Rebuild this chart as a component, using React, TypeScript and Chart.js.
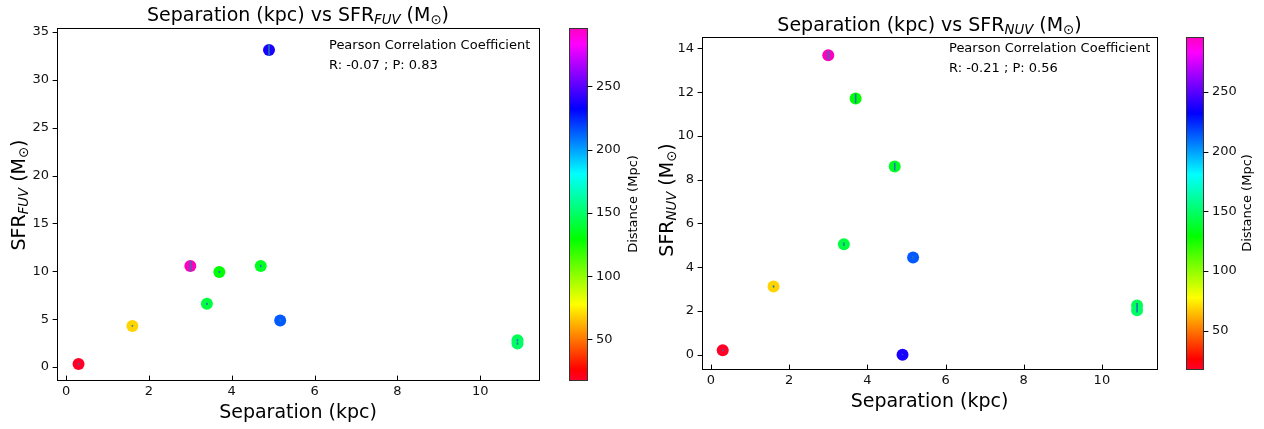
import React, { useEffect, useRef } from 'react';
import { Chart, registerables } from 'chart.js';

Chart.register(...registerables);

// ---------------- data ----------------
const separationKpc = [0.3, 1.6, 3.0, 3.4, 3.7, 4.7, 4.9, 5.17, 10.9, 10.9];
const distanceMpc = [18, 69, 296, 142, 130, 136, 237, 214, 146, 149];
const sfrFUV = [0.33, 4.3, 10.55, 6.6, 9.93, 10.55, 33.1, 4.86, 2.8, 2.45];
const sfrFUVErr = [0.08, 0.08, 0.55, 0.12, 0.1, 0.12, 0.6, 0.15, 0.12, 0.12];
const sfrNUV = [0.21, 3.12, 13.69, 5.05, 11.71, 8.6, 0.0, 4.45, 2.25, 2.03];
const sfrNUVErr = [0.03, 0.05, 0.2, 0.08, 0.22, 0.18, 0.02, 0.05, 0.12, 0.1];
const xTicks = [0, 2, 4, 6, 8, 10];
const fuvTicks = [0, 5, 10, 15, 20, 25, 30, 35];
const nuvTicks = [0, 2, 4, 6, 8, 10, 12, 14];
const distanceTicks = [50, 100, 150, 200, 250];
const pearsonFUV = ['-0.07', '0.83'];
const pearsonNUV = ['-0.21', '0.56'];

// gist_rainbow colormap nodes
const gistRainbow: [number, number, number, number][] = [
  [0.0, 1, 0, 0.16],
  [0.03, 1, 0, 0],
  [0.215, 1, 1, 0],
  [0.4, 0, 1, 0],
  [0.586, 0, 1, 1],
  [0.77, 0, 0, 1],
  [0.954, 1, 0, 1],
  [1.0, 1, 0, 0.75],
];

const vMin = Math.min(...distanceMpc);
const vMax = Math.max(...distanceMpc);

function rgb(r: number, g: number, b: number) {
  return `rgb(${Math.round(r * 255)},${Math.round(g * 255)},${Math.round(b * 255)})`;
}

function cmap(t: number) {
  const c = Math.max(0, Math.min(1, t));
  for (let i = 1; i < gistRainbow.length; i++) {
    const a = gistRainbow[i - 1];
    const b = gistRainbow[i];
    if (c <= b[0]) {
      const f = (c - a[0]) / (b[0] - a[0]);
      return rgb(a[1] + (b[1] - a[1]) * f, a[2] + (b[2] - a[2]) * f, a[3] + (b[3] - a[3]) * f);
    }
  }
  const l = gistRainbow[gistRainbow.length - 1];
  return rgb(l[1], l[2], l[3]);
}

const pointColors = distanceMpc.map((d) => cmap((d - vMin) / (vMax - vMin)));

// ---------------- layout ----------------
const H = 429;
const FONT = '"DejaVu Sans", sans-serif';

type Area = { left: number; right: number; top: number; bottom: number };
type Spec = {
  canvasX: number;
  canvasW: number;
  area: Area;
  y: number[];
  yErr: number[];
  yTicks: number[];
  yMin: number;
  yMax: number;
  xMin: number;
  xMax: number;
  band: string;
  pearson: string[];
  titleBaseline: number;
  ylabelX: number;
  ylabelCY: number;
  noteX: number;
  noteY: number;
  xlabelBaseline: number;
  cbGap: number;
  cbW: number;
  cbLabelX: number;
};

const leftSpec: Spec = {
  canvasX: 0,
  canvasW: 645,
  area: { left: 57, right: 539, top: 28, bottom: 380 },
  y: sfrFUV,
  yErr: sfrFUVErr,
  yTicks: fuvTicks,
  yMin: -1.35,
  yMax: 35.4,
  xMin: -0.22,
  xMax: 11.42,
  band: 'FUV',
  pearson: pearsonFUV,
  titleBaseline: 21,
  ylabelX: 25,
  ylabelCY: 195,
  noteX: 329,
  noteY: 49,
  xlabelBaseline: 418,
  cbGap: 30,
  cbW: 18,
  cbLabelX: 637,
};

const rightSpec: Spec = {
  canvasX: 645,
  canvasW: 619,
  area: { left: 57, right: 512, top: 37, bottom: 369 },
  y: sfrNUV,
  yErr: sfrNUVErr,
  yTicks: nuvTicks,
  yMin: -0.65,
  yMax: 14.52,
  xMin: -0.23,
  xMax: 11.41,
  band: 'NUV',
  pearson: pearsonNUV,
  titleBaseline: 31,
  ylabelX: 28,
  ylabelCY: 200,
  noteX: 304,
  noteY: 52,
  xlabelBaseline: 407,
  cbGap: 29,
  cbW: 17,
  cbLabelX: 606,
};

type Seg = { t: string; sub?: boolean; it?: boolean };

function sfrSegs(prefix: string, band: string): Seg[] {
  return [
    { t: prefix + 'SFR' },
    { t: band, sub: true, it: true },
    { t: ' (M' },
    { t: '\u2299', sub: true },
    { t: ')' },
  ];
}

function drawRich(ctx: CanvasRenderingContext2D, segs: Seg[], size: number) {
  // draws centered at (0,0) on baseline
  const subSize = size * 0.7;
  const fontOf = (s: Seg) => `${s.it ? 'italic ' : ''}${s.sub ? subSize : size}px ${FONT}`;
  let total = 0;
  const widths = segs.map((s) => {
    ctx.font = fontOf(s);
    const w = ctx.measureText(s.t).width;
    total += w;
    return w;
  });
  let x = -total / 2;
  ctx.textAlign = 'left';
  ctx.textBaseline = 'alphabetic';
  segs.forEach((s, i) => {
    ctx.font = fontOf(s);
    ctx.fillText(s.t, x, s.sub ? size * 0.17 : 0);
    x += widths[i];
  });
}

const TICK = 4.9;

function makeDecor(spec: Spec) {
  return {
    id: 'decor',
    afterDatasetsDraw(chart: any) {
      const { ctx } = chart;
      const xs = chart.scales.x;
      const ys = chart.scales.y;
      ctx.save();
      ctx.strokeStyle = '#1f77b4';
      ctx.lineWidth = 1.6;
      separationKpc.forEach((sx, i) => {
        const px = xs.getPixelForValue(sx);
        ctx.beginPath();
        ctx.moveTo(px, ys.getPixelForValue(spec.y[i] - spec.yErr[i]));
        ctx.lineTo(px, ys.getPixelForValue(spec.y[i] + spec.yErr[i]));
        ctx.stroke();
      });
      ctx.restore();
    },
    afterDraw(chart: any) {
      const { ctx, chartArea: a } = chart;
      const xs = chart.scales.x;
      const ys = chart.scales.y;
      const cb = chart.scales.cb;
      ctx.save();
      ctx.strokeStyle = '#000';
      ctx.fillStyle = '#000';
      ctx.lineWidth = 1;
      // frame
      const L = Math.round(a.left) + 0.5;
      const R = Math.round(a.right) + 0.5;
      const T = Math.round(a.top) + 0.5;
      const B = Math.round(a.bottom) + 0.5;
      ctx.strokeRect(L, T, R - L, B - T);
      // y ticks (outside)
      ctx.beginPath();
      spec.yTicks.forEach((v) => {
        const py = Math.round(ys.getPixelForValue(v)) + 0.5;
        ctx.moveTo(L - TICK, py);
        ctx.lineTo(L, py);
      });
      // x ticks (inside)
      xTicks.forEach((v) => {
        const px = Math.round(xs.getPixelForValue(v)) + 0.5;
        ctx.moveTo(px, B);
        ctx.lineTo(px, B - TICK);
      });
      ctx.stroke();

      // colorbar
      const cx0 = a.right + spec.cbGap;
      const cx1 = cx0 + spec.cbW;
      const grad = ctx.createLinearGradient(0, a.bottom, 0, a.top);
      gistRainbow.forEach((n) => grad.addColorStop(n[0], rgb(n[1], n[2], n[3])));
      ctx.fillStyle = grad;
      ctx.fillRect(cx0, a.top, spec.cbW, a.bottom - a.top);
      ctx.strokeStyle = '#333';
      ctx.strokeRect(Math.round(cx0) + 0.5, T, spec.cbW, B - T);
      ctx.strokeStyle = '#000';
      ctx.beginPath();
      distanceTicks.forEach((v) => {
        const py = Math.round(cb.getPixelForValue(v)) + 0.5;
        ctx.moveTo(cx1 + 0.5, py);
        ctx.lineTo(cx1 + 0.5 + TICK, py);
      });
      ctx.stroke();

      ctx.fillStyle = '#000';
      // colorbar label
      ctx.save();
      ctx.translate(spec.cbLabelX, (a.top + a.bottom) / 2);
      ctx.rotate(-Math.PI / 2);
      ctx.font = `13px ${FONT}`;
      ctx.textAlign = 'center';
      ctx.textBaseline = 'alphabetic';
      ctx.fillText('Distance (Mpc)', 0, 0);
      ctx.restore();

      // title
      ctx.save();
      ctx.translate((a.left + a.right) / 2, spec.titleBaseline);
      drawRich(ctx, sfrSegs('Separation (kpc) vs ', spec.band), 19);
      ctx.restore();

      // y label
      ctx.save();
      ctx.translate(spec.ylabelX, spec.ylabelCY);
      ctx.rotate(-Math.PI / 2);
      drawRich(ctx, sfrSegs('', spec.band), 19);
      ctx.restore();

      // x label
      ctx.font = `19px ${FONT}`;
      ctx.textAlign = 'center';
      ctx.textBaseline = 'alphabetic';
      ctx.fillText('Separation (kpc)', (a.left + a.right) / 2, spec.xlabelBaseline);

      // pearson note
      ctx.font = `13px ${FONT}`;
      ctx.textAlign = 'left';
      ctx.fillText('Pearson Correlation Coefficient', spec.noteX, spec.noteY);
      ctx.fillText(`R: ${spec.pearson[0]} ; P: ${spec.pearson[1]}`, spec.noteX, spec.noteY + 20);
      ctx.restore();
    },
  };
}

function zeroPad(s: any) {
  s.paddingTop = 0;
  s.paddingBottom = 0;
  s.paddingLeft = 0;
  s.paddingRight = 0;
}

function buildConfig(spec: Spec): any {
  const tickFont = { family: FONT, size: 13 };
  const fixTicks = (vals: number[]) => (s: any) => {
    s.ticks = vals.map((value) => ({ value }));
  };
  return {
    type: 'scatter',
    data: {
      datasets: [
        {
          data: separationKpc.map((x, i) => ({ x, y: spec.y[i] })),
          pointRadius: 6,
          pointHoverRadius: 6,
          pointBorderWidth: 0,
          pointBackgroundColor: pointColors,
          pointBorderColor: pointColors,
        },
      ],
    },
    options: {
      animation: false,
      responsive: false,
      maintainAspectRatio: false,
      events: [],
      layout: { padding: { top: spec.area.top, left: 0, right: 0, bottom: 0 } },
      plugins: { legend: { display: false }, tooltip: { enabled: false }, title: { display: false } },
      scales: {
        x: {
          type: 'linear',
          position: 'bottom',
          bounds: 'data',
          min: spec.xMin,
          max: spec.xMax,
          afterBuildTicks: fixTicks(xTicks),
          afterFit: (s: any) => {
            s.height = H - spec.area.bottom;
            zeroPad(s);
          },
          grid: { display: false, drawTicks: false },
          border: { display: false },
          ticks: { color: '#111', font: tickFont, padding: 4, maxRotation: 0, autoSkip: false },
        },
        y: {
          type: 'linear',
          position: 'left',
          bounds: 'data',
          min: spec.yMin,
          max: spec.yMax,
          afterBuildTicks: fixTicks(spec.yTicks),
          afterFit: (s: any) => {
            s.width = spec.area.left;
            zeroPad(s);
          },
          grid: { display: false, drawTicks: false },
          border: { display: false },
          ticks: { color: '#111', font: tickFont, padding: 8, autoSkip: false },
        },
        cb: {
          type: 'linear',
          position: 'right',
          bounds: 'data',
          min: vMin,
          max: vMax,
          afterBuildTicks: fixTicks(distanceTicks),
          afterFit: (s: any) => {
            s.width = spec.canvasW - spec.area.right;
            zeroPad(s);
          },
          grid: { display: false, drawTicks: false },
          border: { display: false },
          ticks: {
            color: '#111',
            font: tickFont,
            padding: spec.cbGap + spec.cbW + 9,
            autoSkip: false,
          },
        },
      },
    },
    plugins: [makeDecor(spec)],
  };
}

function Panel({ spec }: { spec: Spec }) {
  const ref = useRef<HTMLCanvasElement>(null);
  useEffect(() => {
    const chart = new Chart(ref.current as HTMLCanvasElement, buildConfig(spec));
    return () => chart.destroy();
  }, [spec]);
  return (
    <canvas
      ref={ref}
      width={spec.canvasW}
      height={H}
      style={{ position: 'absolute', left: spec.canvasX, top: 0, width: spec.canvasW, height: H }}
    />
  );
}

export default function App() {
  return (
    <div style={{ position: 'absolute', left: 0, top: 0, width: 1264, height: H, background: '#fff' }}>
      <Panel spec={leftSpec} />
      <Panel spec={rightSpec} />
    </div>
  );
}
